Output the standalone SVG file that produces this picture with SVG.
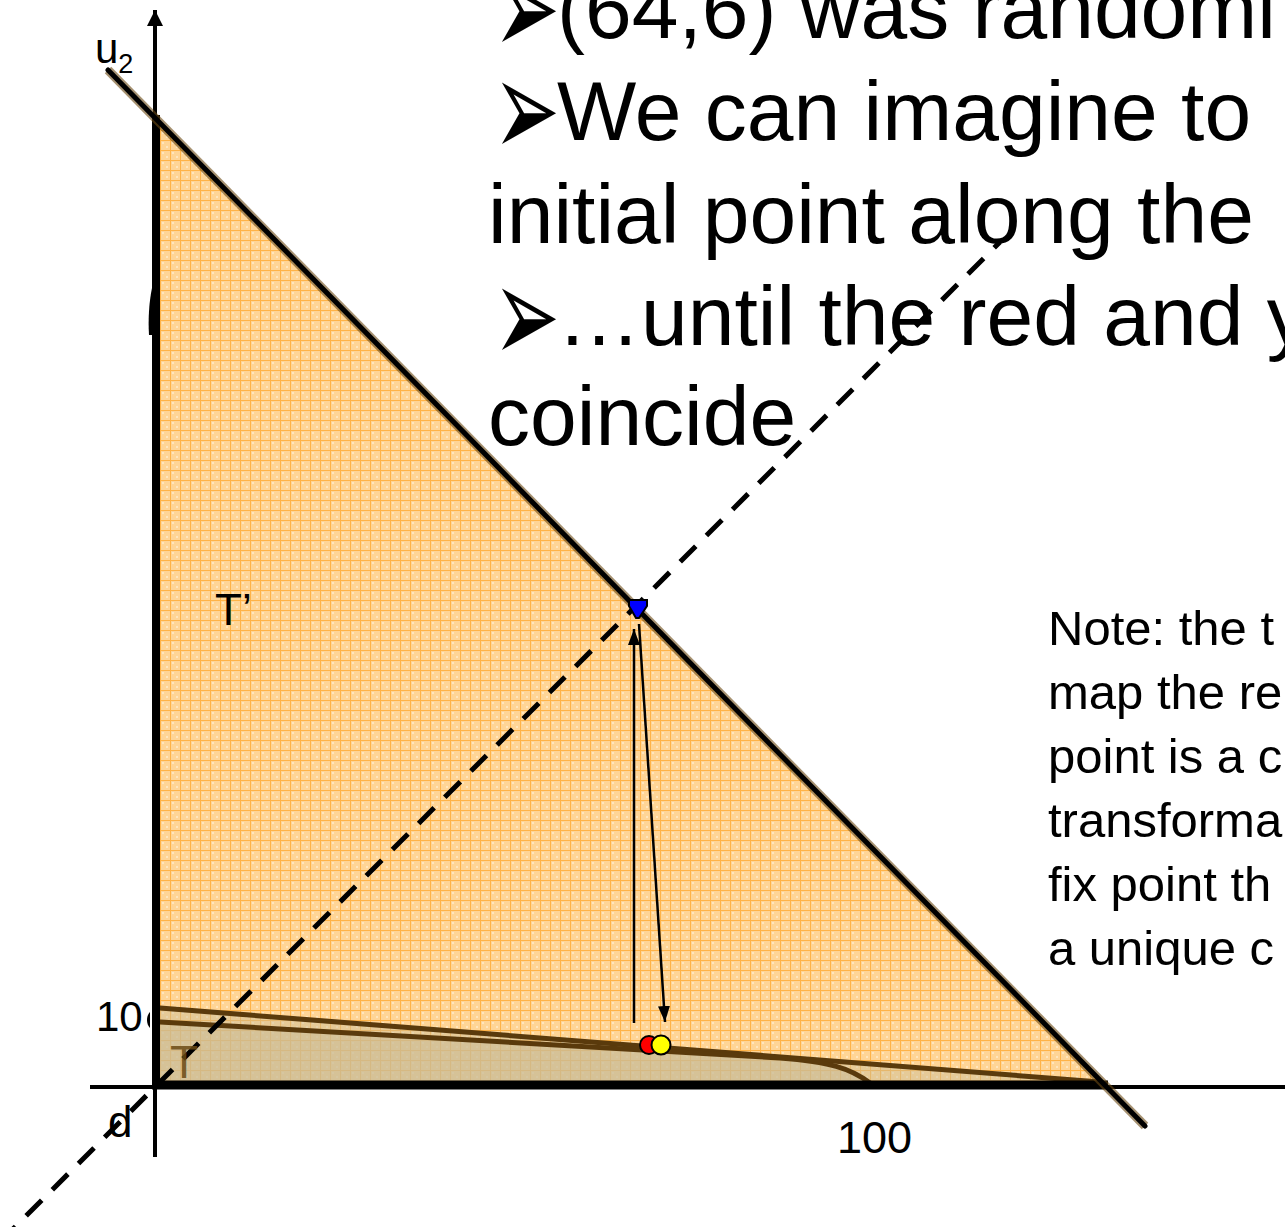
<svg xmlns="http://www.w3.org/2000/svg" width="1285" height="1227" viewBox="0 0 1285 1227">
<defs>
<pattern id="grid" width="10" height="10" patternUnits="userSpaceOnUse">
<rect width="10" height="10" fill="#FFD596"/>
<rect x="2" y="2" width="2" height="2" fill="#FFE6BE"/>
<rect x="6" y="6" width="2" height="2" fill="#FFE6BE"/>
<path d="M0 0.5H10M0.5 0V10" stroke="#FFB347" stroke-width="1"/>
</pattern>
<marker id="ah" viewBox="0 0 16 12" refX="16" refY="6" markerWidth="16" markerHeight="12" markerUnits="userSpaceOnUse" orient="auto">
<path d="M0 0L16 6L0 12Z" fill="#000"/>
</marker>
<marker id="axisArrow" viewBox="0 0 16 16" refX="16" refY="8" markerWidth="16" markerHeight="16" markerUnits="userSpaceOnUse" orient="auto">
<path d="M0 0L16 8L0 16Z" fill="#000"/>
</marker>
</defs>
<style>
.lbl{font-family:"Liberation Sans",Arial,sans-serif;fill:#000}
.big{font-family:"Liberation Sans",Arial,sans-serif;font-size:84px;fill:#000}
.bul{font-family:"DejaVu Sans",sans-serif;font-size:80px;fill:#000}
.note{font-family:"Liberation Sans",Arial,sans-serif;font-size:49px;fill:#000}
.tline{fill:none;stroke:#5A3A0C;stroke-width:5;stroke-linecap:round}
</style>
<rect width="1285" height="1227" fill="#fff"/>

<g id="region-Tprime">
<path d="M155 115L1108 1085L155 1085Z" fill="url(#grid)"/>
</g>

<g id="region-T">
<path d="M160 1008L1100 1082L1100 1085L155 1085L155 1008Z" fill="#C8BC98" fill-opacity="0.45"/>
<path d="M160 1022L780 1058C830 1062 850 1068 870 1083L155 1085L155 1022Z" fill="#C8BC98" fill-opacity="0.55"/>
<path class="tline" d="M160 1008L1100 1082"/>
<path class="tline" d="M160 1022L780 1058C830 1062 850 1068 870 1083"/>
</g>

<g id="axes">
<line x1="155" y1="1157" x2="155" y2="10" stroke="#000" stroke-width="4" marker-end="url(#axisArrow)"/>
<line x1="156" y1="115" x2="156" y2="1088" stroke="#000" stroke-width="8"/>
<path d="M152 288C149 302 148 320 149 335L153 335Z" fill="#000"/>
<path d="M150 1012C146 1016 146 1024 150 1028Z" fill="#000"/>
<line x1="90" y1="1087" x2="1285" y2="1087" stroke="#000" stroke-width="4"/>
<line x1="152" y1="1085" x2="1108" y2="1085" stroke="#000" stroke-width="9"/>
<line x1="108" y1="70" x2="1145" y2="1126" stroke="#6B4A14" stroke-width="9" stroke-opacity="0.6"/>
<line x1="108" y1="70" x2="1145" y2="1126" stroke="#000" stroke-width="5" stroke-linecap="round"/>
</g>

<g id="connectors">
<line x1="0" y1="1242" x2="1000" y2="242" stroke="#000" stroke-width="5" stroke-dasharray="22 15"/>
<line x1="634" y1="1023" x2="634" y2="629" stroke="#000" stroke-width="2.5" marker-end="url(#ah)"/>
<line x1="639" y1="624" x2="665" y2="1022" stroke="#000" stroke-width="2.5" marker-end="url(#ah)"/>
</g>

<g id="point-blue">
<path d="M629 600L647 600L647 606L639 618L636 618L629 606Z" fill="#0000FF" stroke="#000" stroke-width="2"/>
</g>
<g id="point-red">
<circle cx="649" cy="1045" r="9" fill="#FF0000" stroke="#000" stroke-width="2"/>
</g>
<g id="point-yellow">
<circle cx="661" cy="1045" r="9.5" fill="#FFFF00" stroke="#000" stroke-width="2"/>
</g>

<g id="labels">
<text class="lbl" x="95" y="63" font-size="42">u<tspan font-size="27" dy="10">2</tspan></text>
<text class="lbl" x="215" y="625" font-size="44">T’</text>
<text class="lbl" x="96" y="1031" font-size="42">10</text>
<text class="lbl" x="170" y="1078" font-size="46" style="fill:#6B4A14;fill-opacity:0.85">T</text>
<text class="lbl" x="108" y="1137" font-size="44">d</text>
<text class="lbl" x="837" y="1153" font-size="45">100</text>
</g>

<g id="bullets-text">
<text class="bul" transform="translate(493,37) scale(1,1.75)" x="0" y="10">➢</text>
<text class="big" x="557" y="38">(64,6) was randomi</text>
<text class="bul" transform="translate(493,139) scale(1,1.75)" x="0" y="10">➢</text>
<text class="big" x="557" y="140">We can imagine to</text>
<text class="big" x="488" y="243">initial point along the</text>
<text class="bul" transform="translate(493,345) scale(1,1.75)" x="0" y="10">➢</text>
<text class="big" x="557" y="345">…until the red and y</text>
<text class="big" x="488" y="445">coincide</text>
</g>

<g id="note">
<text class="note" x="1048" y="645">Note: the t</text>
<text class="note" x="1048" y="709">map the re</text>
<text class="note" x="1048" y="773">point is a c</text>
<text class="note" x="1048" y="837">transforma</text>
<text class="note" x="1048" y="901">fix point th</text>
<text class="note" x="1048" y="965">a unique c</text>
</g>
</svg>
